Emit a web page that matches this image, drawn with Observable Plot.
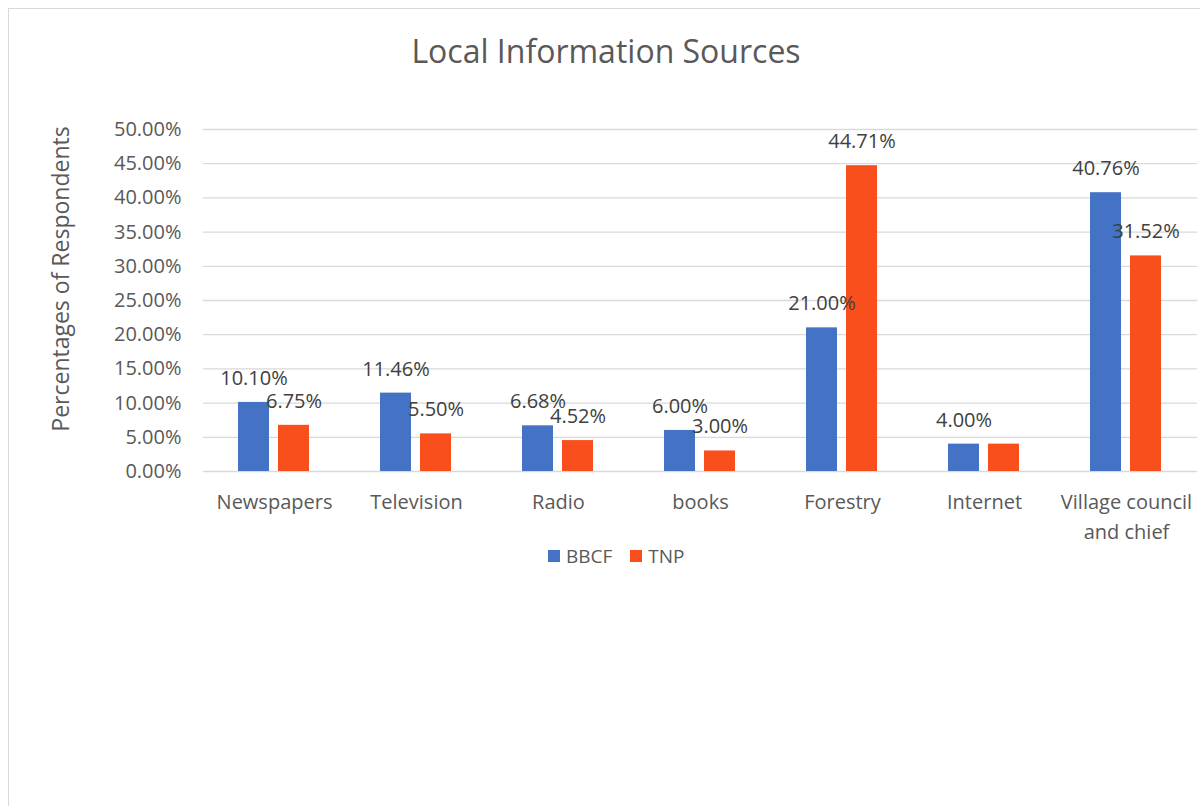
<!DOCTYPE html>
<html>
<head>
<meta charset="utf-8">
<script src="https://cdn.jsdelivr.net/npm/d3@7"></script>
<script src="https://cdn.jsdelivr.net/npm/@observablehq/plot@0.6"></script>
<style>
  body { margin: 0; background: #fff; font-family: "Open Sans", sans-serif; }
  #wrap { position: relative; width: 1200px; height: 806px; overflow: hidden; background: #fff; }
  #frame { position: absolute; left: 8px; top: 8px; width: 1300px; height: 900px; border: 1px solid #d9d9d9; box-sizing: border-box; }
  #title { position: absolute; left: 8px; width: 1196px; top: 29px; text-align: center; font-size: 32px; font-weight: 400; color: #595959; }
  #ylabel { position: absolute; left: 60px; top: 279px; transform: translate(-50%, -50%) rotate(-90deg); white-space: nowrap; font-size: 23px; color: #595959; }
  #legend { position: absolute; top: 543px; left: 548px; display: flex; align-items: center; font-size: 19px; color: #595959; }
  #legend .sw { width: 12px; height: 12px; display: inline-block; margin-right: 6px; }
  #legend .item { display: flex; align-items: center; margin-right: 18px; }
  #chart { position: absolute; left: 0; top: 0; }
</style>
</head>
<body>
<div id="wrap">
  <div id="frame"></div>
  <div id="chart"></div>
  <div id="title">Local Information Sources</div>
  <div id="ylabel">Percentages of Respondents</div>
  <div id="legend"></div>
</div>
<script>
const categories = ["Newspapers", "Television", "Radio", "books", "Forestry", "Internet", "Village council and chief"];
const series = ["BBCF", "TNP"];
const bbcfValues = [0.1010, 0.1146, 0.0668, 0.0600, 0.2100, 0.0400, 0.4076];
const tnpValues = [0.0675, 0.0550, 0.0452, 0.0300, 0.4471, 0.0400, 0.3152];
const seriesColors = ["#4472c4", "#f84f1c"];
const yTicks = [0, 0.05, 0.10, 0.15, 0.20, 0.25, 0.30, 0.35, 0.40, 0.45, 0.50];
// labels Excel hid because they overlapped
const hiddenLabels = [["Internet", "TNP"]];

const data = [];
categories.forEach((c, i) => {
  data.push({category: c, series: "BBCF", value: bbcfValues[i]});
  data.push({category: c, series: "TNP", value: tnpValues[i]});
});
const labelData = data.filter(d => !hiddenLabels.some(([c, s]) => c === d.category && s === d.series));
const pct = d3.format(".2%");

const chart = Plot.plot({
  width: 1200,
  height: 600,
  marginTop: 129,
  marginBottom: 129,
  marginLeft: 200,
  marginRight: 1,
  style: {fontFamily: "'Open Sans', sans-serif", color: "#595959", background: "transparent"},
  fx: {domain: categories, padding: 0, label: null},
  x: {domain: series, paddingInner: 0.22, paddingOuter: 0.85, axis: null},
  y: {domain: [0, 0.5], axis: null},
  color: {domain: series, range: seriesColors},
  marks: [
    Plot.ruleY(yTicks, {stroke: "#d9d9d9", strokeWidth: 1.3}),
    Plot.barY(data, {fx: "category", x: "series", y: "value", fill: "series"}),
    Plot.text(labelData, {fx: "category", x: "series", y: "value", text: d => pct(d.value), dy: -24, fill: "#404040", fontSize: 20}),
    Plot.axisY({ticks: yTicks, tickFormat: pct, tickSize: 0, tickPadding: 22, fontSize: 20, label: null}),
    Plot.axisFx({anchor: "bottom", tickSize: 0, tickPadding: 16, fontSize: 20, lineWidth: 8, lineHeight: 1.5, label: null})
  ]
});
document.getElementById("chart").appendChild(chart);

const legend = document.getElementById("legend");
series.forEach((s, i) => {
  const item = document.createElement("div");
  item.className = "item";
  item.innerHTML = `<span class="sw" style="background:${seriesColors[i]}"></span><span>${s}</span>`;
  legend.appendChild(item);
});
</script>
</body>
</html>
